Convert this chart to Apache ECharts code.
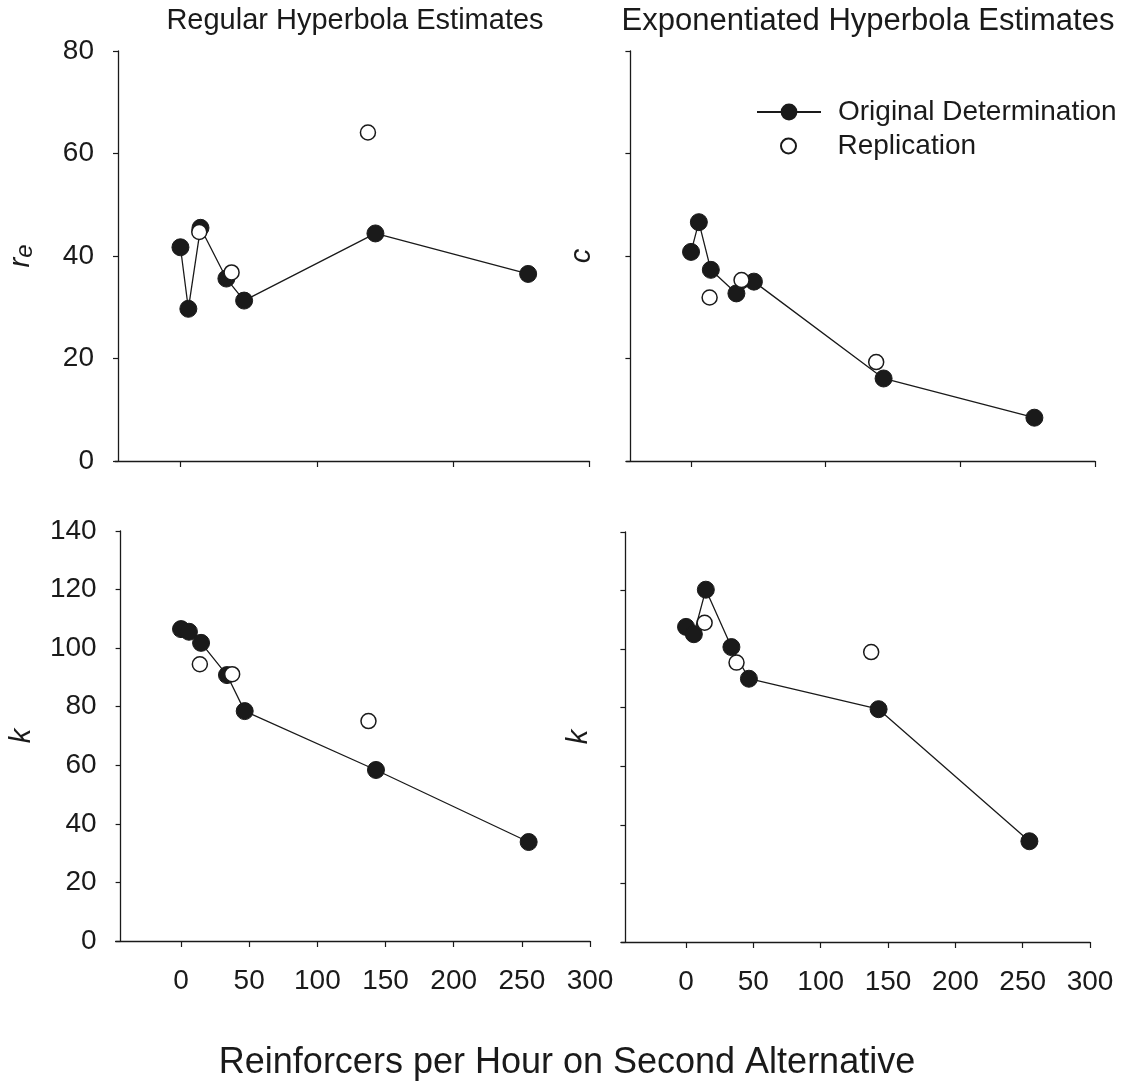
<!DOCTYPE html>
<html>
<head>
<meta charset="utf-8">
<script src="https://cdn.jsdelivr.net/npm/echarts@6/dist/echarts.min.js"></script>
<style>
  html, body { margin: 0; padding: 0; background: #fff; }
  #chart { width: 1139px; height: 1092px; }
</style>
</head>
<body>
<div id="chart"></div>
<script>
// x positions (reinforcers per hour on second alternative)
var xOrig = [0, 5.8, 14.7, 33.7, 46.7, 143, 255];
var xRep = [13.8, 37.5, 137.5];

// regular hyperbola estimates
var reOrig = [41.7, 29.7, 45.5, 35.6, 31.3, 44.4, 36.5];
var reRep = [44.7, 36.8, 64.1];
var kRegOrig = [106.5, 105.6, 101.8, 90.8, 78.5, 58.4, 33.8];
var kRegRep = [94.5, 91.1, 75.1];

// exponentiated hyperbola estimates
var cOrig = [40.8, 46.6, 37.3, 32.7, 35.0, 16.1, 8.45];
var cRep = [31.9, 35.3, 19.3];
var kExpOrig = [107.6, 105.1, 120.3, 100.7, 89.9, 79.5, 34.4];
var kExpRep = [109, 95.4, 99];

var xTicksTop = [0, 100, 200, 300];
var xTicksBottom = [0, 50, 100, 150, 200, 250, 300];

var FONT = "'Liberation Sans', Arial, sans-serif";
var INK = '#1a1a1a';

function pairs(xs, ys) {
  return xs.map(function (x, i) { return [x, ys[i]]; });
}

var chart = echarts.init(document.getElementById('chart'));

var grids = [
  { left: 115, top: 51, width: 474.5, height: 410 },
  { left: 626.4, top: 51, width: 468.6, height: 410 },
  { left: 115.6, top: 531, width: 474.4, height: 410 },
  { left: 621.4, top: 532, width: 468.6, height: 410 }
];
var yOffsets = [-3, -4, -5, -4];

function xAxis(i, bottom) {
  var ticks = bottom ? xTicksBottom : xTicksTop;
  return {
    type: 'value', gridIndex: i, min: -48, max: 300,
    axisLine: { onZero: false, lineStyle: { color: INK, width: 1.3 } },
    axisTick: { show: true, customValues: ticks, length: 6, lineStyle: { color: INK, width: 1.2 } },
    axisLabel: {
      show: bottom, customValues: ticks, margin: 26,
      fontFamily: FONT, fontSize: 28, color: INK
    },
    splitLine: { show: false }
  };
}

function yAxis(i, max, showLabels, name, gap) {
  return {
    type: 'value', gridIndex: i, min: 0, max: max, interval: 20,
    offset: yOffsets[i],
    axisLine: { show: true, onZero: false, lineStyle: { color: INK, width: 1.3 } },
    axisTick: { show: true, length: 5, lineStyle: { color: INK, width: 1.2 } },
    axisLabel: { show: showLabels, margin: 24, fontFamily: FONT, fontSize: 28, color: INK },
    splitLine: { show: false },
    name: name, nameLocation: 'middle', nameGap: gap,
    nameTextStyle: {
      fontFamily: FONT, fontSize: 29, fontStyle: 'italic', color: INK,
      rich: {
        r: { fontFamily: FONT, fontSize: 29, fontStyle: 'italic', color: INK, lineHeight: 34 },
        e: { fontFamily: FONT, fontSize: 24, fontStyle: 'italic', color: INK, lineHeight: 34, padding: [8, 0, 0, 0] }
      }
    }
  };
}

function origSeries(i, ys) {
  return {
    name: 'Original Determination', type: 'line', xAxisIndex: i, yAxisIndex: i,
    data: pairs(xOrig, ys),
    symbol: 'circle', symbolSize: 17,
    lineStyle: { color: INK, width: 1.3 },
    itemStyle: { color: INK, borderColor: INK },
    z: 2
  };
}

function repSeries(i, ys) {
  return {
    name: 'Replication', type: 'scatter', xAxisIndex: i, yAxisIndex: i,
    data: pairs(xRep, ys),
    symbol: 'circle', symbolSize: 15,
    itemStyle: { color: '#fff', borderColor: INK, borderWidth: 1.5, opacity: 1 },
    z: 3
  };
}

var legendText = { fontFamily: FONT, fontSize: 28, color: INK, padding: [0, 0, 0, 12] };

chart.setOption({
  backgroundColor: '#fff',
  animation: false,
  grid: grids,
  xAxis: [xAxis(0, false), xAxis(1, false), xAxis(2, true), xAxis(3, true)],
  yAxis: [
    yAxis(0, 80, true, '{r|r}{e|e}', 80),
    yAxis(1, 80, false, 'c', 34),
    yAxis(2, 140, true, 'k', 84),
    yAxis(3, 140, false, 'k', 32)
  ],
  legend: [
    {
      left: 756, top: 98, padding: 0,
      itemWidth: 64, itemHeight: 21,
      data: ['Original Determination'],
      textStyle: legendText
    },
    {
      left: 780, top: 132, padding: 0,
      itemWidth: 64, itemHeight: 15,
      data: ['Replication'],
      textStyle: legendText
    }
  ],
  graphic: [
    { type: 'text', x: 355, y: 21, style: { text: 'Regular Hyperbola Estimates', textAlign: 'center', textVerticalAlign: 'middle', font: '29px ' + FONT, fill: INK } },
    { type: 'text', x: 868, y: 21, style: { text: 'Exponentiated Hyperbola Estimates', textAlign: 'center', textVerticalAlign: 'middle', font: '31px ' + FONT, fill: INK } },
    { type: 'text', x: 567, y: 1063, style: { text: 'Reinforcers per Hour on Second Alternative', textAlign: 'center', textVerticalAlign: 'middle', font: '36px ' + FONT, fill: INK } }
  ],
  series: [
    origSeries(0, reOrig), repSeries(0, reRep),
    origSeries(1, cOrig), repSeries(1, cRep),
    origSeries(2, kRegOrig), repSeries(2, kRegRep),
    origSeries(3, kExpOrig), repSeries(3, kExpRep)
  ]
});
</script>
</body>
</html>
